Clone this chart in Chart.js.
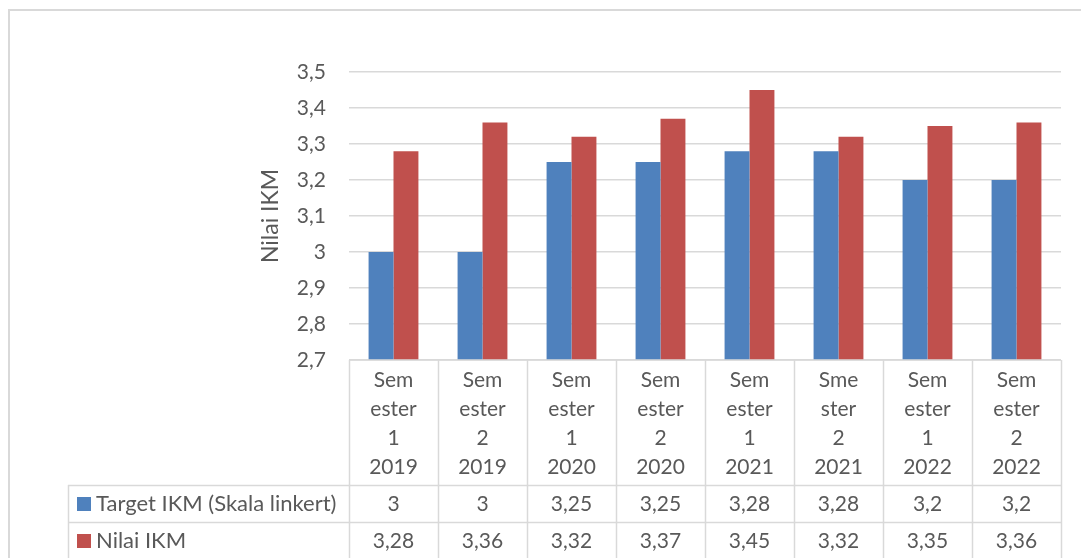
<!DOCTYPE html>
<html>
<head>
<meta charset="utf-8">
<script src="https://cdn.jsdelivr.net/npm/chart.js@4/dist/chart.umd.min.js"></script>
<style>
  html, body { margin: 0; padding: 0; background: #ffffff; }
  #wrap { width: 1081px; height: 558px; position: relative; }
</style>
</head>
<body>
<div id="wrap"><canvas id="c" width="1081" height="558"></canvas></div>
<script>
// ---- Data ----
const categories = [
  ['Sem', 'ester', '1', '2019'],
  ['Sem', 'ester', '2', '2019'],
  ['Sem', 'ester', '1', '2020'],
  ['Sem', 'ester', '2', '2020'],
  ['Sem', 'ester', '1', '2021'],
  ['Sme', 'ster', '2', '2021'],
  ['Sem', 'ester', '1', '2022'],
  ['Sem', 'ester', '2', '2022']
];
const seriesNames = ['Target IKM (Skala linkert)', 'Nilai IKM'];
const targetIKM = [3, 3, 3.25, 3.25, 3.28, 3.28, 3.2, 3.2];
const nilaiIKM = [3.28, 3.36, 3.32, 3.37, 3.45, 3.32, 3.35, 3.36];
const yTickValues = [2.7, 2.8, 2.9, 3.0, 3.1, 3.2, 3.3, 3.4, 3.5];
const yTickLabels = ['2,7', '2,8', '2,9', '3', '3,1', '3,2', '3,3', '3,4', '3,5'];
const axisTitle = 'Nilai IKM';

// ---- Styles ----
const FONT = 'Lato, "Open Sans", sans-serif';
const TXT = '#595959';
const LINE = '#d9d9d9';
const colors = ['#4F81BD', '#C0504D'];
const seriesData = [targetIKM, nilaiIKM];

function fmt(v) { return String(v).replace('.', ','); }

const tablePlugin = {
  id: 'dataTable',
  afterDraw(chart) {
    const ctx = chart.ctx;
    const x = chart.scales.x;
    const n = categories.length;
    const step = x.getPixelForValue(1) - x.getPixelForValue(0);
    const top = chart.chartArea.bottom;
    const headerBottom = 485;
    const rowH = 37;
    const legendLeft = 68;
    const bottom = 600;
    ctx.save();
    // outer chart border
    ctx.strokeStyle = LINE;
    ctx.lineWidth = 2;
    ctx.strokeRect(9, 10, 1200, 700);

    ctx.lineWidth = 1.5;
    ctx.strokeStyle = LINE;
    ctx.beginPath();
    ctx.moveTo(x.left, top); ctx.lineTo(x.right, top);
    for (let i = 0; i <= n; i++) {
      const px = Math.round(x.left + i * step) + 0.5;
      ctx.moveTo(px, top); ctx.lineTo(px, bottom);
    }
    for (let r = 0; r < seriesNames.length; r++) {
      const yy = headerBottom + r * rowH + 0.5;
      ctx.moveTo(legendLeft, yy); ctx.lineTo(x.right, yy);
    }
    ctx.moveTo(legendLeft + 0.5, headerBottom); ctx.lineTo(legendLeft + 0.5, bottom);
    ctx.stroke();

    ctx.textBaseline = 'middle';
    for (let r = 0; r < seriesNames.length; r++) {
      const cy = headerBottom + r * rowH + rowH / 2 + 0.5;
      ctx.fillStyle = colors[r];
      ctx.fillRect(legendLeft + 9, cy - 7, 14, 14);
      ctx.fillStyle = TXT;
      ctx.textAlign = 'left';
      ctx.font = '22px ' + FONT;
      ctx.fillText(seriesNames[r], legendLeft + 28, cy);
      ctx.textAlign = 'center';
      ctx.font = '21px ' + FONT;
      seriesData[r].forEach((v, i) => {
        ctx.fillText(fmt(v), x.getPixelForValue(i), cy);
      });
    }
    ctx.restore();
  }
};

new Chart(document.getElementById('c'), {
  type: 'bar',
  data: {
    labels: categories,
    datasets: seriesNames.map((name, k) => ({
      label: name,
      data: seriesData[k],
      backgroundColor: colors[k],
      borderWidth: 0,
      barPercentage: 1.0,
      categoryPercentage: 0.56
    }))
  },
  options: {
    responsive: false,
    animation: false,
    devicePixelRatio: 1,
    layout: { padding: { top: 72, right: 20, bottom: 0, left: 0 } },
    plugins: { legend: { display: false }, tooltip: { enabled: false } },
    scales: {
      x: {
        offset: true,
        grid: { display: false, drawTicks: false },
        border: { display: false },
        ticks: {
          color: TXT,
          font: { family: FONT, size: 21, lineHeight: '29px' },
          padding: 6,
          maxRotation: 0,
          autoSkip: false
        },
        afterFit(scale) { scale.height = 198; }
      },
      y: {
        min: 2.7,
        max: 3.5,
        afterBuildTicks(scale) { scale.ticks = yTickValues.map(v => ({ value: v })); },
        grid: { color: LINE, lineWidth: 1.5, drawTicks: false },
        border: { display: false },
        ticks: {
          color: TXT,
          font: { family: FONT, size: 21 },
          padding: 23,
          callback(value, index) { return yTickLabels[index]; }
        },
        title: {
          display: true,
          text: axisTitle,
          color: TXT,
          font: { family: FONT, size: 23 },
          padding: { top: 257, bottom: 0 }
        },
        afterFit(scale) { scale.width = 349; }
      }
    }
  },
  plugins: [tablePlugin]
});
</script>
</body>
</html>
